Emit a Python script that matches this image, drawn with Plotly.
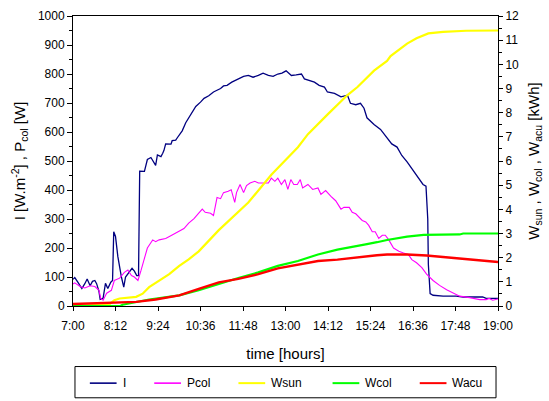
import plotly.graph_objects as go

# ---- measured series (clock time, value) ----
i_time = ["7:00", "7:03", "7:09", "7:15", "7:20", "7:24", "7:29", "7:33", "7:37", "7:40",
          "7:44", "7:46", "7:51", "7:55", "7:59", "8:04", "8:07", "8:09", "8:12", "8:14",
          "8:16", "8:22", "8:26", "8:29", "8:34", "8:40", "8:44", "8:48", "8:51", "8:53",
          "9:01", "9:06", "9:12", "9:15", "9:18", "9:20", "9:23", "9:29", "9:32", "9:34",
          "9:37", "9:46", "9:48", "9:54", "9:57", "9:59", "10:05", "10:11", "10:16", "10:22",
          "10:28", "10:36", "10:42", "10:50", "10:58", "11:04", "11:10", "11:15", "11:21", "11:29",
          "11:40", "11:49", "11:57", "12:05", "12:14", "12:22", "12:31", "12:39", "12:47", "12:54",
          "13:01", "13:10", "13:18", "13:27", "13:32", "13:41", "13:49", "13:57", "14:06", "14:11",
          "14:23", "14:34", "14:45", "14:50", "14:59", "15:07", "15:13", "15:18", "15:30", "15:41",
          "15:52", "16:00", "16:09", "16:17", "16:26", "16:37", "16:45", "16:53", "16:58", "16:59",
          "17:01", "17:02", "17:05", "17:10", "17:27", "17:49", "18:01", "18:34", "18:40", "19:00"]
i_vals = [92, 98, 80, 60, 77, 93, 70, 85, 88, 77,
          50, 23, 27, 78, 60, 82, 88, 256, 240, 200,
          170, 100, 65, 100, 115, 130, 120, 105, 105, 465,
          464, 505, 512, 503, 494, 485, 521, 515, 527, 536,
          559, 558, 570, 572, 581, 586, 604, 632, 648, 670,
          688, 703, 716, 725, 738, 744, 750, 759, 761, 772,
          783, 792, 795, 789, 795, 803, 795, 792, 800, 803,
          811, 795, 797, 800, 783, 778, 772, 761, 755, 738,
          733, 721, 727, 699, 694, 699, 682, 649, 626, 609,
          581, 559, 548, 519, 497, 464, 441, 419, 413, 385,
          300, 144, 43, 37, 34, 34, 31, 31, 26, 26]

pcol_time = ["7:00", "7:03", "7:12", "7:20", "7:29", "7:37", "7:44", "7:47", "7:51", "7:57",
             "8:05", "8:10", "8:19", "8:27", "8:33", "8:39", "8:44", "8:50", "8:55", "9:01",
             "9:06", "9:15", "9:20", "9:26", "9:37", "9:48", "10:00", "10:08", "10:16", "10:25",
             "10:33", "10:39", "10:44", "10:53", "10:58", "11:04", "11:10", "11:15", "11:23", "11:28",
             "11:34", "11:37", "11:43", "11:49", "11:54", "12:00", "12:08", "12:14", "12:22", "12:31",
             "12:36", "12:42", "12:47", "12:53", "12:59", "13:04", "13:09", "13:14", "13:20", "13:25",
             "13:29", "13:38", "13:46", "13:55", "14:00", "14:08", "14:17", "14:25", "14:34", "14:39",
             "14:48", "14:53", "14:59", "15:05", "15:10", "15:16", "15:21", "15:27", "15:32", "15:38",
             "15:44", "15:49", "15:55", "16:03", "16:12", "16:20", "16:28", "16:34", "16:42", "16:51",
             "16:59", "17:10", "17:21", "17:33", "17:44", "17:55", "18:12", "18:29", "18:40", "18:45",
             "18:51", "19:00"]
pcol_vals = [76, 80, 67, 62, 70, 67, 54, 26, 20, 44,
             54, 88, 96, 116, 124, 105, 100, 88, 121, 166,
             200, 228, 222, 228, 233, 245, 258, 267, 286, 301,
             320, 334, 323, 320, 312, 374, 370, 391, 396, 401,
             357, 391, 419, 391, 415, 424, 430, 424, 424, 424,
             441, 430, 441, 419, 436, 402, 436, 419, 419, 436,
             407, 419, 402, 407, 385, 398, 378, 363, 334, 340,
             340, 323, 318, 306, 295, 290, 278, 256, 256, 233,
             244, 244, 228, 200, 189, 183, 178, 160, 149, 132,
             110, 88, 71, 56, 45, 34, 29, 22, 22, 26,
             20, 24]

wsun_time = ["7:00", "7:30", "7:34", "8:02", "8:10", "8:19", "8:47", "8:58", "9:09", "9:26",
             "9:43", "10:00", "10:16", "10:33", "11:07", "11:57", "12:36", "13:21", "13:38", "14:11",
             "14:45", "15:02", "15:30", "15:52", "15:58", "16:26", "16:42", "17:02", "17:27", "18:06",
             "19:00"]
wsun_vals = [0.0, 0.04, 0.06, 0.08, 0.24, 0.31, 0.38, 0.51, 0.78, 1.05,
             1.32, 1.66, 1.93, 2.26, 3.14, 4.28, 5.43, 6.57, 7.11, 7.92,
             8.73, 9.06, 9.74, 10.14, 10.34, 10.86, 11.08, 11.28, 11.34, 11.39,
             11.40]

wcol_time = ["7:00", "8:20", "8:24", "9:09", "9:48", "10:00", "10:33", "11:07", "11:40", "12:14",
             "12:47", "13:21", "13:55", "14:28", "14:45", "15:02", "15:18", "15:35", "15:52", "16:26",
             "16:54", "17:55", "18:01", "19:00"]
wcol_vals = [0.0, 0.0, 0.05, 0.27, 0.40, 0.44, 0.65, 0.92, 1.16, 1.39,
             1.66, 1.86, 2.13, 2.33, 2.40, 2.48, 2.56, 2.64, 2.73, 2.87,
             2.94, 2.96, 3.00, 3.00]

wacu_time = ["7:00", "8:19", "8:47", "9:20", "9:53", "10:00", "10:33", "11:07", "11:40", "12:14",
             "12:47", "13:21", "13:55", "14:28", "14:45", "15:02", "15:18", "15:35", "15:52", "16:26",
             "16:59", "17:33", "18:06", "18:34", "18:57", "19:00"]
wacu_vals = [0.08, 0.13, 0.17, 0.27, 0.40, 0.44, 0.71, 0.98, 1.12, 1.32,
             1.56, 1.72, 1.86, 1.92, 1.97, 2.02, 2.06, 2.10, 2.13, 2.13,
             2.09, 2.02, 1.93, 1.89, 1.83, 1.82]

# x-axis tick positions (every 72 minutes)
tick_labels = ["7:00", "8:12", "9:24", "10:36", "11:48", "13:00",
               "14:12", "15:24", "16:36", "17:48", "19:00"]


def to_hours(stamps):
    out = []
    for s in stamps:
        h, m = s.split(":")
        out.append(int(h) + int(m) / 60.0)
    return out


FONT = "Liberation Sans, Arial, sans-serif"

series = [
    dict(name="I", t=i_time, v=i_vals, color="#000080", width=1.3, axis="y"),
    dict(name="Pcol", t=pcol_time, v=pcol_vals, color="#FF00FF", width=1.1, axis="y"),
    dict(name="Wsun", t=wsun_time, v=wsun_vals, color="#FFFF00", width=2.2, axis="y2"),
    dict(name="Wcol", t=wcol_time, v=wcol_vals, color="#00FF00", width=2.2, axis="y2"),
    dict(name="Wacu", t=wacu_time, v=wacu_vals, color="#FF0000", width=2.4, axis="y2"),
]

fig = go.Figure()
for s in series:
    fig.add_trace(go.Scatter(
        x=to_hours(s["t"]), y=s["v"], name=s["name"], mode="lines",
        line=dict(color=s["color"], width=s["width"]), yaxis=s["axis"],
        showlegend=False,
    ))

# legend drawn as a boxed row beneath the plot
legend_line_x = [90, 155, 240, 335, 423]   # pixel start of each sample line
L, R, T, B = 73, 502, 9, 306
W, H = R - L, B - T


def px_x(p):
    return (p - L) / W


def px_y(p):
    return (B - p) / H


shapes = [dict(type="rect", xref="paper", yref="paper",
               x0=px_x(75), x1=px_x(500), y0=px_y(400), y1=px_y(368),
               line=dict(color="black", width=1), fillcolor="white", layer="above")]
annotations = []
for s, x0 in zip(series, legend_line_x):
    shapes.append(dict(type="line", xref="paper", yref="paper",
                       x0=px_x(x0), x1=px_x(x0 + 27), y0=px_y(385), y1=px_y(385),
                       line=dict(color=s["color"], width=1.6 if s["name"] in ("I", "Pcol") else 2)))
    annotations.append(dict(xref="paper", yref="paper", x=px_x(x0 + 31), y=px_y(385),
                            text=s["name"], showarrow=False, xanchor="left", yanchor="middle",
                            font=dict(family=FONT, size=12, color="black")))

fig.update_layout(
    width=549, height=401,
    margin=dict(l=L, r=549 - R, t=T, b=401 - B),
    paper_bgcolor="white", plot_bgcolor="white",
    font=dict(family=FONT, size=12, color="black"),
    shapes=shapes, annotations=annotations,
    xaxis=dict(
        range=[7, 19], tickmode="array",
        tickvals=to_hours(tick_labels), ticktext=tick_labels,
        ticks="outside", ticklen=4, tickcolor="black", ticklabelstandoff=5,
        showline=True, linecolor="black", linewidth=1, mirror=True,
        showgrid=False, zeroline=False,
        title=dict(text="time [hours]", font=dict(size=15), standoff=16),
    ),
    yaxis=dict(
        range=[0, 1000], dtick=100, ticks="outside", ticklen=5, tickcolor="black",
        minor=dict(dtick=50, ticks="outside", ticklen=3, tickcolor="black"),
        showline=True, linecolor="black", linewidth=1,
        showgrid=False, zeroline=False,
        title=dict(text="I [W.m<sup>-2</sup>] , P<sub>col</sub> [W]", font=dict(size=15), standoff=8),
    ),
    yaxis2=dict(
        range=[0, 12], dtick=1, overlaying="y", side="right",
        ticks="outside", ticklen=4, tickcolor="black",
        minor=dict(dtick=0.5, ticks="outside", ticklen=3, tickcolor="black"),
        showline=True, linecolor="black", linewidth=1,
        showgrid=False, zeroline=False,
        title=dict(text="W<sub>sun</sub> , W<sub>col</sub> , W<sub>acu</sub> [kWh]",
                   font=dict(size=15), standoff=10),
    ),
)

fig.write_html("out.html")
